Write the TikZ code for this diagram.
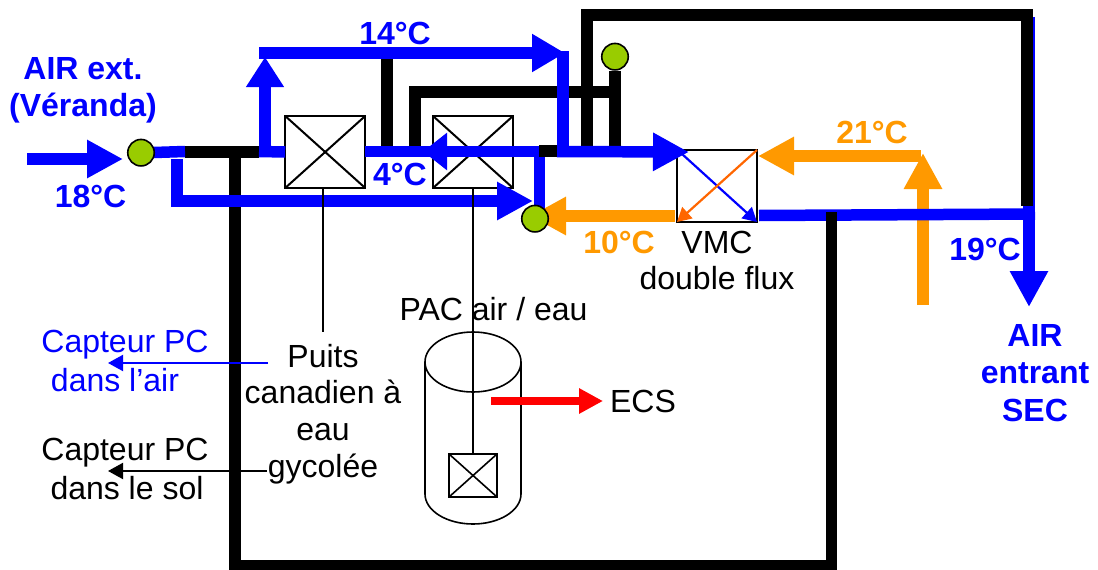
\documentclass[tikz,border=0pt]{standalone}
\usepackage{fontspec}
\setmainfont{Liberation Sans}
\usetikzlibrary{arrows.meta,shapes.geometric}
\definecolor{cblue}{HTML}{0000FF}
\definecolor{corange}{HTML}{FF9900}
\definecolor{cdorange}{HTML}{FF6600}
\definecolor{cgreen}{HTML}{99CC00}
\tikzset{
  wall/.style={line width=12pt,black,line cap=butt,line join=miter},
  bluepipe/.style={line width=11.5pt,cblue,line join=miter},
  orangepipe/.style={line width=11.5pt,corange,line join=miter},
  bighead/.style={-{Triangle[length=36pt,width=36pt]}},
  hx/.style={draw=black,line width=2pt,minimum width=80pt,minimum height=72pt,inner sep=0pt,outer sep=0pt},
  thin line/.style={line width=1.6pt,black},
  sensor/.style={circle,draw=black,line width=1.6pt,fill=cgreen,minimum size=26.5pt,inner sep=0pt},
  lab/.style={font=\fontsize{32}{36.8}\selectfont,align=center,inner sep=0pt,anchor=center},
  hot/.style={lab,font=\fontsize{32}{37.5}\selectfont\bfseries},
}
\begin{document}
\begin{tikzpicture}[x=1pt,y=-1pt]
\useasboundingbox (0,0) rectangle (1098,570);
% coordinates
\foreach \n/\x/\y in {
 inA/27/159, inB/123/159, stubA/154/152.5, stubB/185/151.5,
 wA/185/151.5, wB/259/151.5, wC/235/157, wD/235/565, wE/831/565, wF/831/212,
 tA/387/59, tB/387/146, uA/415/146, uB/415/91.5, uC/615/91.5, uD/615/146,
 bA/587/146, bB/587/15, bC/1027/15, bD/1027/206,
 sA/539/151, sB/557/151,
 upA/265/157, upB/265/57, topA/259/53, topB/565/53, dnA/563/51, dnB/563/157,
 mainA/557/151.5, mainB/689/152,
 leftA/365/151.5, leftB/539/151.5, leftT/423/151.5,
 lowA/177/159, lowB/177/201, lowC/533/201,
 vA/539.5/157, vB/539.5/213,
 outA/759/215.5, outB/1035/214, dropA/1029/206, dropB/1029/307,
 edgeA/1034/17, edgeB/1034/206,
 o1A/675/216, o1B/530/216,
 o2A/921/156, o2B/758/156,
 o3A/923/305, o3B/923/153,
 capAA/268/363, capAB/108/363, capBA/267/471, capBB/108/471,
 redA/491/401, redB/603/401
}{\coordinate (\n) at (\x,\y);}

% walls (black ducts)
\draw[wall] (wA) -- (wB);
\draw[wall] (wC) -- (wD);
\draw[line width=10pt,black] (229,565) coordinate (wG) -- (836.5,565) coordinate (wH);
\draw[line width=11pt,black] (wE) -- (wF);
\draw[wall] (tA) -- (tB);
\draw[wall] (uA) |- (uC);
\draw[wall] (uC) -- (uD);
\draw[wall] (bA) |- (bC) -- (bD);
\draw[line width=2pt,cblue] (edgeA) -- (edgeB);

% orange vertical goes under the blue outlet
\draw[orangepipe,-{Triangle[length=36pt,width=36pt]}] (o3A) -- (o3B);

% heat exchangers
\node[hx,fill=white,minimum width=80pt] (hxa) at (325.2,152) {};
\draw[line width=2pt] (hxa.north west) -- (hxa.south east) (hxa.north east) -- (hxa.south west);
\node[hx,minimum width=80pt] (hxb) at (473,152) {};
\draw[line width=2pt] (hxb.north west) -- (hxb.south east) (hxb.north east) -- (hxb.south west);
\node[hx,fill=white] (vmc) at (717,186) {};
\node[hx,line width=1.6pt,minimum width=48pt,minimum height=43pt] (tank) at (473,475.5) {};
\draw[line width=1.6pt] (tank.north west) -- (tank.south east) (tank.north east) -- (tank.south west);

% blue ducts
\draw[cblue,line width=11.5pt,bighead] (inA) -- (inB);
\draw[bluepipe] (stubA) -- (stubB);
\draw[bluepipe] (259,151.5) coordinate (jA) -- (hxa.west);
\draw[bluepipe,-{Triangle[length=30pt,width=36pt]}] (upA) -- (upB);
\draw[bluepipe,-{Triangle[length=33pt,width=36pt]}] (topA) -- (topB);
\draw[bluepipe] (dnA) -- (dnB);
\draw[bluepipe] (leftA) -- (leftB);
\draw[bluepipe,-{Triangle[length=24pt,width=36pt]}] (leftB) -- (leftT);
\draw[bluepipe,bighead] (lowA) -- (lowB) -- (lowC);
\draw[line width=11pt,cblue] (vA) -- (vB);
\draw[bluepipe,bighead] (mainA) -- (mainB);
\draw[wall,line width=11.5pt] (sA) -- (sB);

% outlet
\draw[bluepipe] (outA) -- (outB);
\draw[bluepipe,bighead] (dropA) -- (dropB);
\draw[line width=11pt,black] (wF) -- ++(0,20);

% orange ducts
\draw[orangepipe,{Triangle[length=36pt,width=36pt]}-] (o2B) -- (o2A);
\draw[orangepipe,bighead] (o1A) -- (o1B);

% VMC internals
\draw[line width=2.2pt,cblue,-{Triangle[length=14pt,width=15pt]}] (vmc.north west)++(5,4) coordinate (dA) -- (vmc.south east);
\draw[line width=2.2pt,cdorange,-{Triangle[length=14pt,width=15pt]}] (vmc.north east) -- (vmc.south west);

% sensors
\node[sensor] (s1) at (141,152.7) {};
\node[sensor] (s2) at (535,218.7) {};
\node[sensor] (s3) at (615,56.7) {};
\draw[wall] (s3.south) -- (uC);

% cylinder
\coordinate (cylL) at (425,362);
\coordinate (cylR) at (521,362);
\node[draw=black,line width=1.6pt,ellipse,minimum width=96pt,minimum height=60pt,inner sep=0pt] (cyltop) at (473,362) {};
\draw[line width=1.6pt] (cylL) -- (425,494) arc[start angle=180,end angle=360,x radius=48pt,y radius=30pt] -- (cylR);

% thin connectors
\coordinate (hxaS) at (323,188);
\coordinate (puitsT) at (323,332);
\draw[thin line] (hxaS) -- (puitsT);
\draw[thin line] (hxb.south) -- (tank.north);
\draw[line width=2pt,cblue,-{Triangle[length=15pt,width=16pt]}] (capAA) -- (capAB);
\draw[line width=2pt,black,-{Triangle[length=15pt,width=16pt]}] (capBA) -- (capBB);
\draw[line width=8pt,red,-{Triangle[length=24pt,width=24pt]}] (redA) -- (redB);

% labels
\node[hot,text=cblue] (tAir) at (83,90.5) {AIR ext.\\(Véranda)};
\node[hot,text=cblue] (t18) at (90.5,196) {18°C};
\node[hot,text=cblue] (t14) at (395,33) {14°C};
\node[hot,text=cblue] (t4) at (400,174) {4°C};
\node[hot,text=corange] (t21) at (872,132) {21°C};
\node[hot,text=corange] (t10) at (619,242) {10°C};
\node[hot,text=cblue] (t19) at (985,249) {19°C};
\node[hot,text=cblue] (tSec) at (1035,373) {AIR\\entrant\\SEC};
\node[lab] (tVmc) at (717,260.5) {VMC\\double flux};
\node[lab] (tPac) at (493.5,309) {PAC air / eau};
\node[lab] (tEcs) at (643,401) {ECS};
\node[lab] (tPuits) at (323,414) {Puits\\canadien à\\eau\\gycolée};
\node[lab,text=cblue] (tCa) at (125,345) {Capteur PC};
\node[lab,text=cblue] (tCb) at (115,380) {dans l’air};
\node[lab] (tCc) at (125,453) {Capteur PC};
\node[lab] (tCd) at (127,488) {dans le sol};
\end{tikzpicture}
\end{document}
